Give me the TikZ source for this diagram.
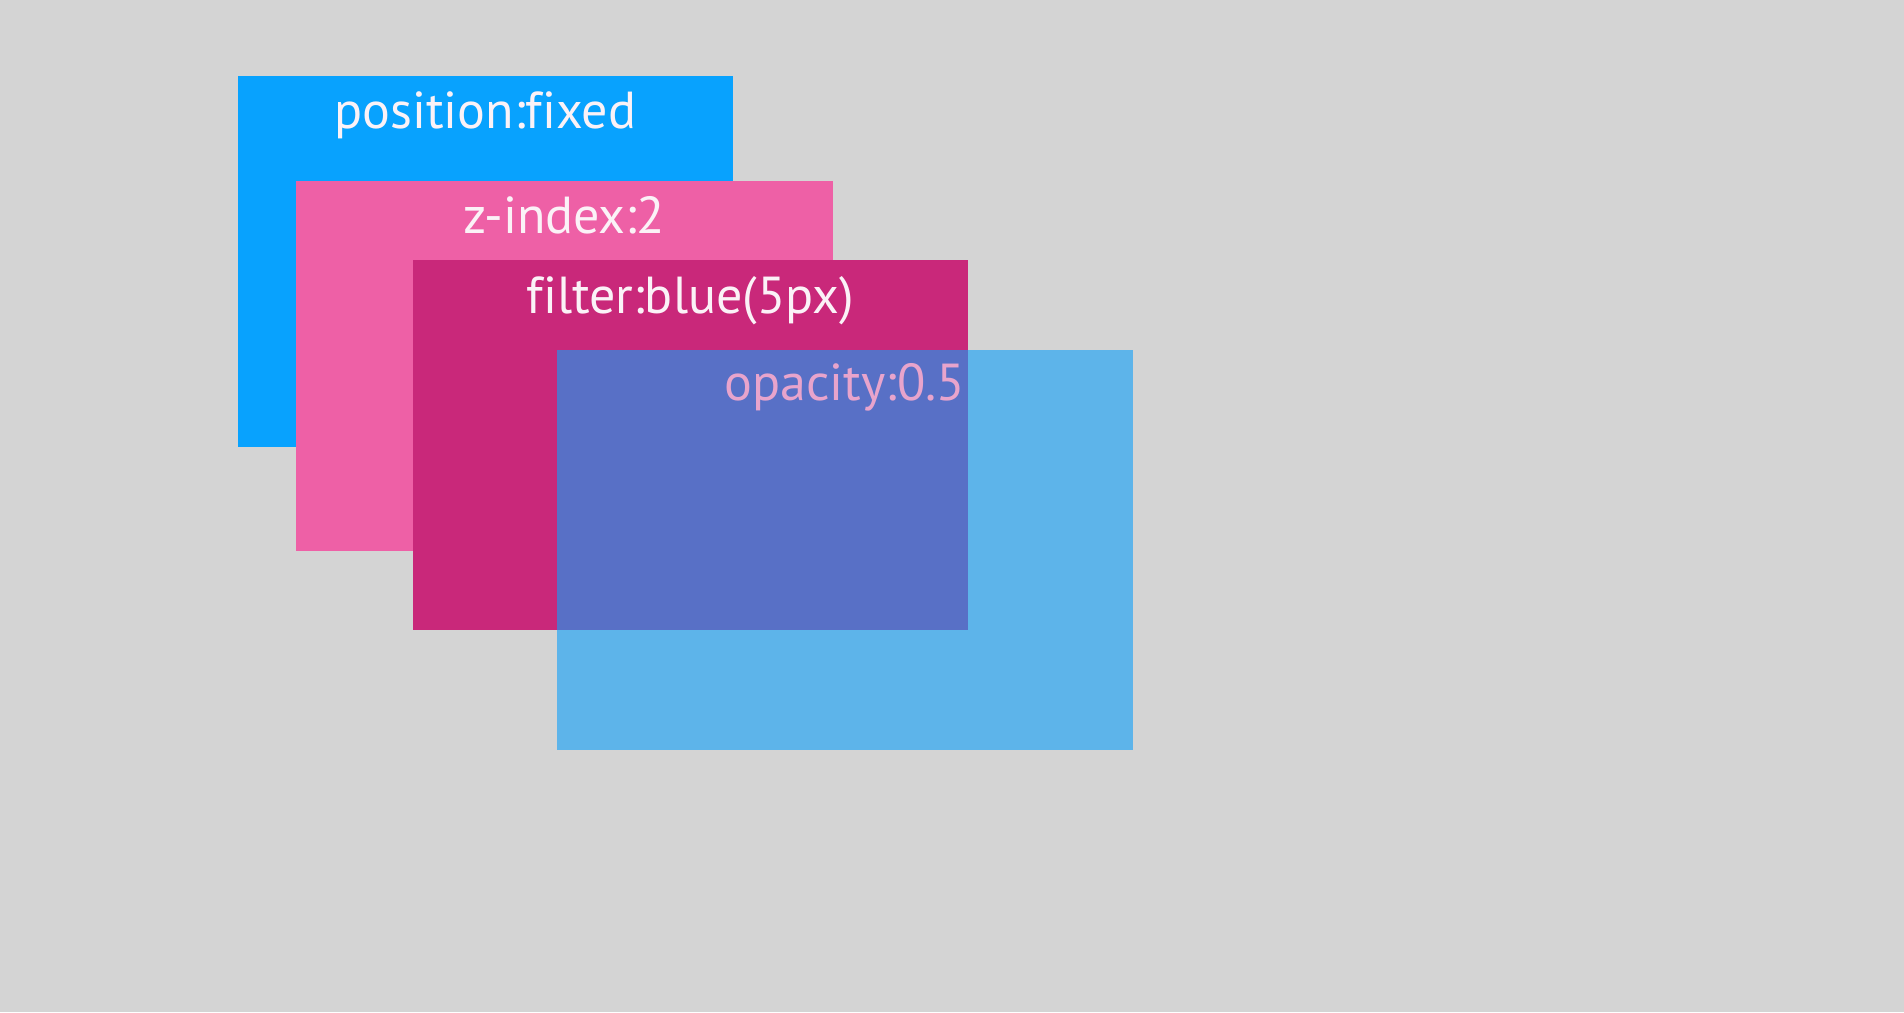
\documentclass[tikz,border=0pt]{standalone}
\usepackage{fontspec}
\setmainfont{PT Sans}[Ligatures=NoCommon]
\usepackage{tikz}
\usetikzlibrary{positioning}

\definecolor{bggray}{HTML}{D4D4D4}
\definecolor{fixedblue}{HTML}{08A2FE}
\definecolor{zpink}{HTML}{EE60A6}
\definecolor{filtermag}{HTML}{C9287A}
\definecolor{opblue}{HTML}{0EA0F9}
\definecolor{optext}{HTML}{E8A4CC}
\definecolor{labelwhite}{HTML}{FBF2F7}

\begin{document}
\begin{tikzpicture}
        \tikzset{
            layer/.style={draw=none, rectangle, anchor=north west, inner sep=0pt, minimum height=3.7cm},
            caption/.style={anchor=base, text=labelwhite, font=\fontsize{14.8}{16}\selectfont}
        }

        % Background
        \fill[bggray] (0,0) rectangle (19.04,-10.12);
        \useasboundingbox (0,0) rectangle (19.04,-10.12);

        % Layers
        \node[layer, fill=fixedblue, minimum width=4.95cm, minimum height=3.71cm] (fixedbox) at (2.37,-0.75) {};
        \node[layer, fill=zpink, minimum width=5.37cm] (zbox) at (2.95,-1.80) {};
        \node[layer, fill=filtermag, minimum width=5.55cm] (filterbox) at (4.12,-2.59) {};
        \node[layer, fill=opblue, fill opacity=0.6, minimum width=5.76cm, minimum height=4.0cm] (opbox) at (5.56,-3.49) {};

        % Captions
        \node[caption, below=0.53cm of fixedbox.north, anchor=base] (fixedtext) {position:fixed};
        \node[caption, below=0.53cm of zbox.north, anchor=base] (ztext) {z-index:2};
        \node[caption, below=0.54cm of filterbox.north, anchor=base] (filtertext) {filter:blue(5px)};
        \node[caption, below=0.51cm of opbox.north, anchor=base, text=optext] (optext) {opacity:0.5};
    \end{tikzpicture}
\end{document}
